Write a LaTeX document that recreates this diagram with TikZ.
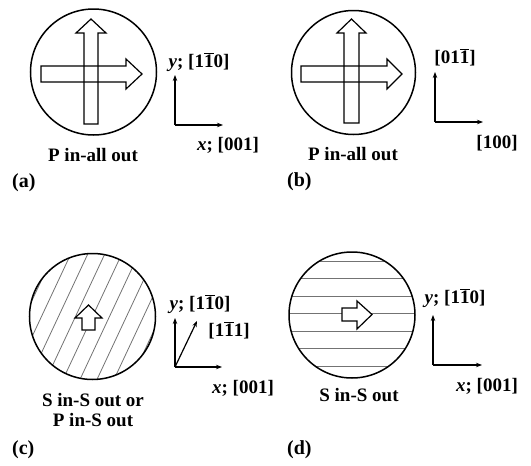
\documentclass[tikz,border=0pt]{standalone}
\usepackage{fontspec}
\setmainfont{Liberation Serif}
\usetikzlibrary{arrows.meta}
\newcommand{\ob}[1]{\ensuremath{\overline{\mbox{#1}}}}

\begin{document}
\begin{tikzpicture}[x=1pt, y=-1pt, >={Stealth[length=6pt,width=4.5pt]},
    lbl/.style={font=\fontsize{19}{22}\selectfont\bfseries, inner sep=0pt},
    tag/.style={font=\fontsize{20}{22}\selectfont\bfseries, inner sep=0pt, anchor=west},
    ring/.style={line width=1.5pt},
    axis/.style={->, line width=1.2pt},
    blk/.style={line width=1.2pt, line join=miter},
    hatch/.style={black!55, line width=0.8pt}]
  \useasboundingbox (0,0) rectangle (531,466);

  % (a) P in - all out
  \draw[ring] (93.5,72) circle (63);
  \draw[blk] (84,124) -- (84,33) -- (76,33) -- (91,19) -- (106,33) -- (98,33) -- (98,124) -- cycle;
  \draw[blk] (41,66) -- (126,66) -- (126,59) -- (142,74) -- (126,89) -- (126,82) -- (41,82) -- cycle;
  \coordinate (oa) at (175,125);
  \coordinate (ya) at (175,75);
  \coordinate (xa) at (223,125);
  \draw[axis] (oa) -- (ya);
  \draw[axis] (oa) -- (xa);
  \node[lbl] (ylaba) at (199,62) {\textit{y}; [1\ob{1}0]};
  \node[lbl] (xlaba) at (228,145) {\textit{x}; [001]};
  \node[lbl] (capa) at (93,155) {P in-all out};
  \node[tag] (taga) at (12,183) {(a)};

  % (b) P in - all out, other cut
  \draw[ring] (353.5,72.5) circle (62);
  \draw[blk] (344,123) -- (344,33) -- (337,33) -- (351.5,19) -- (366,33) -- (359,33) -- (359,123) -- cycle;
  \draw[blk] (301,66) -- (387,66) -- (387,59) -- (402,74) -- (387,89) -- (387,82) -- (301,82) -- cycle;
  \coordinate (ob) at (435,122);
  \coordinate (yb) at (435,72);
  \coordinate (xb) at (483,122);
  \draw[axis] (ob) -- (yb);
  \draw[axis] (ob) -- (xb);
  \node[lbl] (ylabb) at (455,57) {[01\ob{1}]};
  \node[lbl] (xlabb) at (497,143) {[100]};
  \node[lbl] (capb) at (353,154) {P in-all out};
  \node[tag] (tagb) at (287,182) {(b)};

  % (c) S in - S out / P in - S out
  \begin{scope}
    \clip (92.5,316.5) circle (63);
    \foreach \k in {-7,...,7}
      \draw[hatch] ({92.5+17*\k-45},412.5) -- ++(90,-192);
  \end{scope}
  \draw[ring] (92.5,316.5) circle (63);
  \draw[blk, fill=white] (82,330) -- (82,318) -- (75,318) -- (88.5,305) -- (102,318) -- (95,318) -- (95,330) -- cycle;
  \coordinate (oc) at (175,367);
  \coordinate (yc) at (175,318);
  \coordinate (xc) at (222,367);
  \coordinate (dc) at (197,321);
  \draw[axis] (oc) -- (yc);
  \draw[axis] (oc) -- (xc);
  \draw[axis] (oc) -- (dc);
  \node[lbl] (ylabc) at (200,304) {\textit{y}; [1\ob{1}0]};
  \node[lbl] (dlabc) at (229,330) {[1\ob{1}1]};
  \node[lbl] (xlabc) at (243,388) {\textit{x}; [001]};
  \node[lbl] (capc) at (93,400) {S in-S out or};
  \node[lbl] (capc2) at (93,420) {P in-S out};
  \node[tag] (tagc) at (12,450) {(c)};

  % (d) S in - S out
  \begin{scope}
    \clip (352,315) circle (63);
    \foreach \k in {-3,...,3}
      \draw[hatch] (280,{313.5+17.5*\k}) -- (425,{313.5+17.5*\k});
  \end{scope}
  \draw[ring] (352,315) circle (63);
  \draw[blk, fill=white] (342,308) -- (357,308) -- (357,301) -- (372,314.5) -- (357,329) -- (357,321) -- (342,321) -- cycle;
  \coordinate (od) at (433,365);
  \coordinate (yd) at (433,315);
  \coordinate (xd) at (482,365);
  \draw[axis] (od) -- (yd);
  \draw[axis] (od) -- (xd);
  \node[lbl] (ylabd) at (455,298) {\textit{y}; [1\ob{1}0]};
  \node[lbl] (xlabd) at (487,386) {\textit{x}; [001]};
  \node[lbl] (capd) at (359,395) {S in-S out};
  \node[tag] (tagd) at (287,450) {(d)};
\end{tikzpicture}
\end{document}
